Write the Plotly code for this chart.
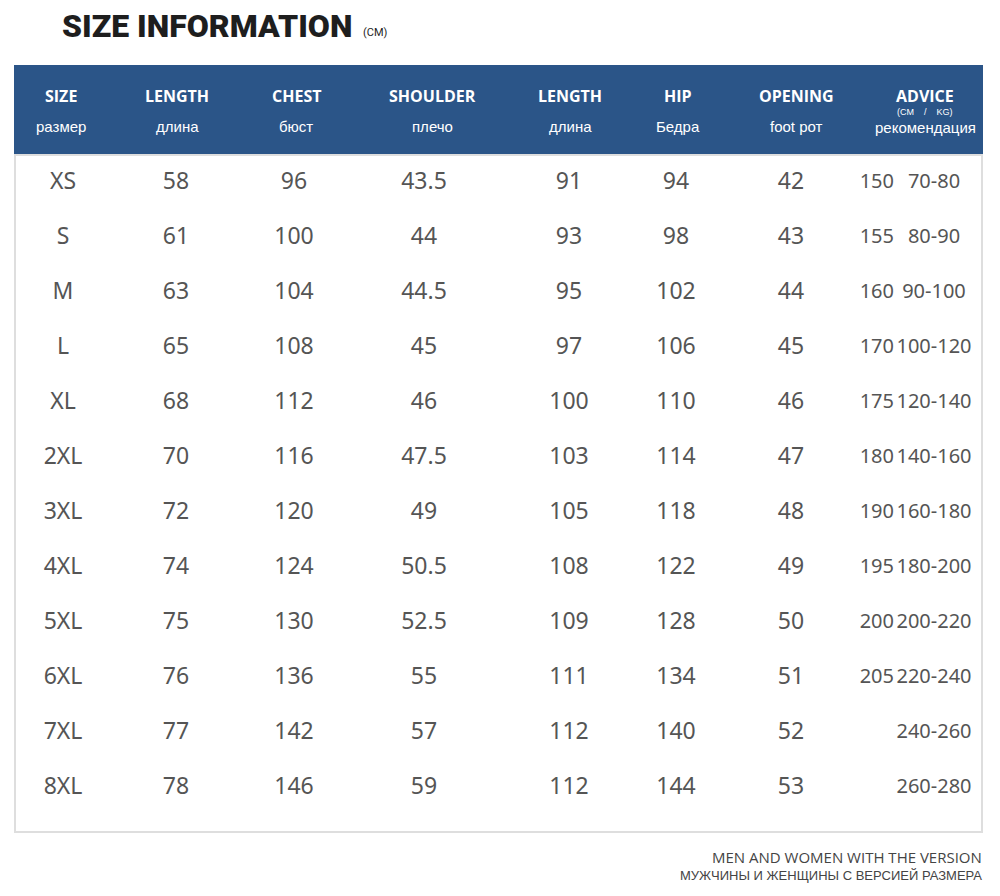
import plotly.graph_objects as go

sizes = ["XS", "S", "M", "L", "XL", "2XL", "3XL", "4XL", "5XL", "6XL", "7XL", "8XL"]
length = [58, 61, 63, 65, 68, 70, 72, 74, 75, 76, 77, 78]
chest = [96, 100, 104, 108, 112, 116, 120, 124, 130, 136, 142, 146]
shoulder = [43.5, 44, 44.5, 45, 46, 47.5, 49, 50.5, 52.5, 55, 57, 59]
pant_length = [91, 93, 95, 97, 100, 103, 105, 108, 109, 111, 112, 112]
hip = [94, 98, 102, 106, 110, 114, 118, 122, 128, 134, 140, 144]
opening = [42, 43, 44, 45, 46, 47, 48, 49, 50, 51, 52, 53]
advice_height = ["150", "155", "160", "170", "175", "180", "190", "195", "200", "205", "", ""]
advice_weight = ["70-80", "80-90", "90-100", "100-120", "120-140", "140-160", "160-180",
                 "180-200", "200-220", "220-240", "240-260", "260-280"]

head_en = ["SIZE", "LENGTH", "CHEST", "SHOULDER", "LENGTH", "HIP", "OPENING", "ADVICE"]
head_ru = ["размер", "длина", "бюст", "плечо", "длина", "Бедра", "foot рот", "рекомендация"]

W, H = 1000, 896
BLUE = "#2b5588"
GREY = "#555555"
DATA_FONT = "Noto Sans, Open Sans, sans-serif"


def py(p):
    # pixel from top -> paper y
    return 1 - p / H


fig = go.Figure()

# (column centre in px, values, text position, font size)
columns = [
    (63, sizes, "middle center", 23),
    (176, length, "middle center", 23),
    (294, chest, "middle center", 23),
    (424, shoulder, "middle center", 23),
    (569, pant_length, "middle center", 23),
    (676, hip, "middle center", 23),
    (791, opening, "middle center", 23),
    (894, advice_height, "middle left", 20),
    (934, advice_weight, "middle center", 20),
]
for xc, vals, pos, fs in columns:
    fig.add_trace(go.Scatter(
        x=[xc] * len(sizes), y=sizes, mode="text",
        text=[str(v) for v in vals], textposition=pos,
        textfont=dict(family=DATA_FONT, size=fs, color=GREY),
        hoverinfo="skip", showlegend=False,
    ))

# header band and table frame
fig.add_shape(type="rect", xref="x", yref="paper", x0=14, x1=983, y0=py(155), y1=py(65),
              fillcolor=BLUE, line_width=0, layer="below")
fig.add_shape(type="rect", xref="x", yref="paper", x0=15, x1=982, y0=py(832), y1=py(155),
              fillcolor="white", line=dict(color="#dedede", width=2), layer="below")

head_x = [61, 177, 296, 432, 570, 678, 796, 925]
for xc, en, ru in zip(head_x, head_en, head_ru):
    fig.add_annotation(x=xc, y=py(96), xref="x", yref="paper", text="<b>" + en + "</b>",
                       showarrow=False, xanchor="center", yanchor="middle",
                       font=dict(family="Open Sans, Noto Sans, sans-serif", size=16, color="white"))
    ru_y = 128 if en == "ADVICE" else 126
    fig.add_annotation(x=xc, y=py(ru_y), xref="x", yref="paper", text=ru,
                       showarrow=False, xanchor="center", yanchor="middle",
                       font=dict(family="Liberation Sans, Arial, sans-serif", size=15, color="white"))
fig.add_annotation(x=925, y=py(112), xref="x", yref="paper", text="(CM&nbsp;&nbsp;&nbsp;&nbsp;/&nbsp;&nbsp;&nbsp;&nbsp;KG)",
                   showarrow=False, xanchor="center", yanchor="middle",
                   font=dict(family="Liberation Sans, Arial, sans-serif", size=9, color="white"))

# title
fig.add_annotation(x=60, y=py(26), xref="x", yref="paper", text="SIZE INFORMATION",
                   showarrow=False, xanchor="left", yanchor="middle",
                   font=dict(family="Roboto, sans-serif", size=32, weight=900, color="#1e1e1e"))
fig.add_annotation(x=361, y=py(33), xref="x", yref="paper", text="(CM)",
                   showarrow=False, xanchor="left", yanchor="middle",
                   font=dict(family="Roboto, sans-serif", size=11, color="#1e1e1e"))

# footer
fig.add_annotation(x=984, y=py(857), xref="x", yref="paper", text="MEN AND WOMEN WITH THE VERSION",
                   showarrow=False, xanchor="right", yanchor="middle",
                   font=dict(family="Open Sans, Noto Sans, sans-serif", size=15, color="#444444"))
fig.add_annotation(x=984, y=py(875), xref="x", yref="paper", text="МУЖЧИНЫ И ЖЕНЩИНЫ С ВЕРСИЕЙ РАЗМЕРА",
                   showarrow=False, xanchor="right", yanchor="middle",
                   font=dict(family="Liberation Sans, Arial, sans-serif", size=13, color="#444444"))

# row pitch 55px, first row centred at ~180px
top = -183 / 55
fig.update_layout(
    width=W, height=H, autosize=False,
    margin=dict(l=0, r=0, t=0, b=0),
    paper_bgcolor="white", plot_bgcolor="white",
    xaxis=dict(range=[0, W], visible=False, fixedrange=True),
    yaxis=dict(type="category", categoryorder="array", categoryarray=sizes,
               range=[top + H / 55, top], visible=False, fixedrange=True),
    showlegend=False,
)

fig.write_html("out.html", config={"displayModeBar": False},
               post_script="document.body.style.margin='0';")
